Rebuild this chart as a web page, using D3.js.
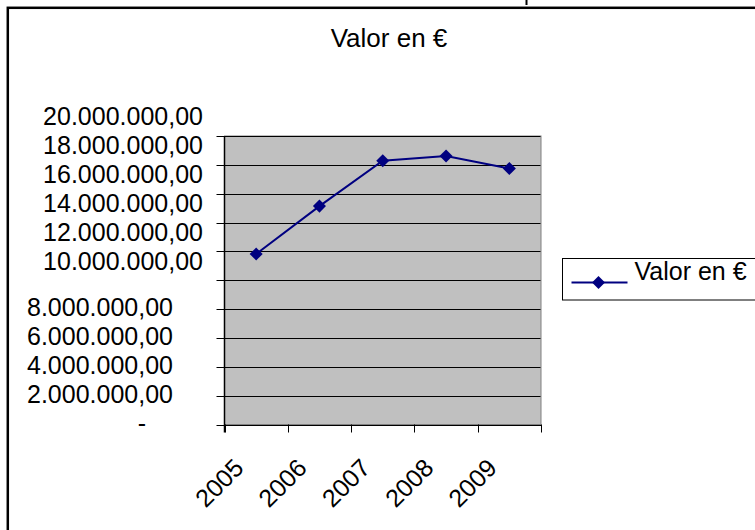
<!DOCTYPE html>
<html lang="es">
<head>
  <meta charset="UTF-8">
  <title>Valor en €</title>
  <script src="https://d3js.org/d3.v7.min.js"></script>
  <style>
    body { margin: 0; background: #fff; }
    svg { display: block; font-family: "Liberation Sans", Arial, sans-serif; }
  </style>
</head>
<body>
  <svg id="chart" width="755" height="530"></svg>
  <script>
    // data
    const years = ["2005", "2006", "2007", "2008", "2009"];
    const valores = [11820000, 15140000, 18280000, 18620000, 17750000];
    const yTicks = [0, 2e6, 4e6, 6e6, 8e6, 10e6, 12e6, 14e6, 16e6, 18e6, 20e6];
    const seriesName = "Valor en €";

    const svg = d3.select("#chart");
    const navy = "#000080";

    // outer frame (only top and left edges show)
    svg.append("rect")
       .attr("x", 7.8).attr("y", 7.8)
       .attr("width", 900).attr("height", 700)
       .attr("fill", "none").attr("stroke", "#000").attr("stroke-width", 2.5);
    // cut-off glyph at the very top
    svg.append("line")
       .attr("x1", 526.5).attr("x2", 526.5).attr("y1", 0).attr("y2", 5)
       .attr("stroke", "#000").attr("stroke-width", 2);

    const plot = { left: 224.5, right: 541, top: 136, bottom: 424.5 };

    const x = d3.scaleBand().domain(years).range([plot.left, plot.right]).padding(0);
    const y = d3.scaleLinear().domain([0, 20e6]).range([plot.bottom, plot.top]);
    const py = v => Math.round(y(v)) + 0.5;

    // title
    svg.append("text")
       .attr("x", 389).attr("y", 46.5)
       .attr("text-anchor", "middle")
       .attr("font-size", 26)
       .text(seriesName);

    // plot area
    svg.append("rect")
       .attr("x", plot.left).attr("y", plot.top)
       .attr("width", plot.right - plot.left).attr("height", plot.bottom - plot.top)
       .attr("fill", "#c0c0c0").attr("stroke", "#808080").attr("stroke-width", 1);

    // gridlines + left ticks
    const grid = svg.append("g");
    yTicks.forEach(v => {
      grid.append("line")
          .attr("x1", plot.left - 8).attr("x2", v === 0 ? plot.right : plot.right - 0.5)
          .attr("y1", py(v)).attr("y2", py(v))
          .attr("stroke", "#000").attr("stroke-width", 1);
    });

    // y labels (Excel drew the long ones shifted up)
    const fmt = v => v === 0 ? "-" :
      d3.format(",.2f")(v).replace(/,/g, "#").replace(".", ",").replace(/#/g, ".");
    svg.append("g").selectAll("text")
       .data(yTicks)
       .join("text")
       .attr("x", v => v === 0 ? 146 : (v >= 10e6 ? 203 : 173))
       .attr("y", v => y(v) + (v >= 10e6 ? -19.5 : -1.5))
       .attr("dy", "0.35em")
       .attr("text-anchor", "end")
       .attr("font-size", 25)
       .text(fmt);

    // axes lines
    svg.append("line")
       .attr("x1", plot.left).attr("x2", plot.left)
       .attr("y1", plot.top).attr("y2", plot.bottom + 8)
       .attr("stroke", "#000").attr("stroke-width", 1.5);
    const xEdges = years.map(d => x(d)).concat([plot.right]);
    svg.append("g").selectAll("line")
       .data(xEdges)
       .join("line")
       .attr("x1", d => Math.round(d) + 0.5).attr("x2", d => Math.round(d) + 0.5)
       .attr("y1", plot.bottom).attr("y2", plot.bottom + 8)
       .attr("stroke", "#000").attr("stroke-width", 1);

    // x labels rotated
    svg.append("g").selectAll("text")
       .data(years)
       .join("text")
       .attr("transform", d => `translate(${x(d) + x.bandwidth() / 2 - 11}, ${plot.bottom + 45}) rotate(-45)`)
       .attr("text-anchor", "end")
       .attr("font-size", 25)
       .text(d => d);

    // series line + markers
    const pts = years.map((d, i) => ({ year: d, value: valores[i] }));
    const line = d3.line()
                   .x(d => x(d.year) + x.bandwidth() / 2)
                   .y(d => y(d.value));
    svg.append("path")
       .datum(pts)
       .attr("fill", "none")
       .attr("stroke", navy)
       .attr("stroke-width", 2)
       .attr("d", line);

    const diamond = d3.symbol().type(d3.symbolSquare).size(85);
    svg.append("g").selectAll("path")
       .data(pts)
       .join("path")
       .attr("transform", d => `translate(${x(d.year) + x.bandwidth() / 2}, ${y(d.value)}) rotate(45)`)
       .attr("d", diamond)
       .attr("fill", navy);

    // legend
    const lg = svg.append("g").attr("transform", "translate(562.5, 258.5)");
    lg.append("rect")
      .attr("width", 300).attr("height", 41.5)
      .attr("fill", "#fff").attr("stroke", "#000").attr("stroke-width", 1);
    lg.append("line")
      .attr("x1", 9).attr("x2", 65).attr("y1", 24).attr("y2", 24)
      .attr("stroke", navy).attr("stroke-width", 2);
    lg.append("path")
      .attr("transform", "translate(36, 24) rotate(45)")
      .attr("d", diamond)
      .attr("fill", navy);
    lg.append("text")
      .attr("x", 72).attr("y", 21)
      .attr("font-size", 25)
      .text(seriesName);
  </script>
</body>
</html>
